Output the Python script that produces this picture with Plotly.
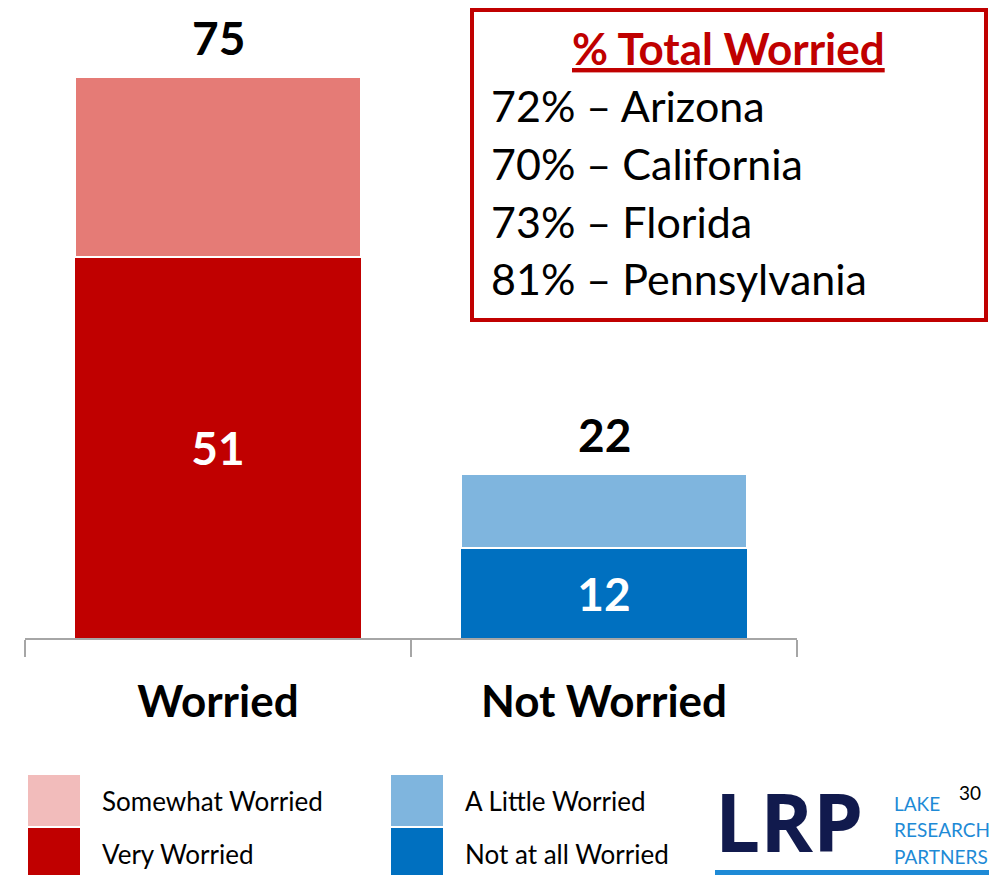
import plotly.graph_objects as go

categories = ["Worried", "Not Worried"]
bottom_values = [51, 12]          # Very Worried / Not at all Worried
top_values = [24, 10]             # Somewhat Worried / A Little Worried
bottom_colors = ["#C00000", "#0070C0"]
top_colors = ["#E57B76", "#7FB5DE"]
legend_labels = [["Somewhat Worried", "Very Worried"], ["A Little Worried", "Not at all Worried"]]
legend_colors = [["#F2BCBB", "#C00000"], ["#7FB5DE", "#0070C0"]]
box_title = "% Total Worried"
box_lines = ["72% – Arizona", "70% – California", "73% – Florida", "81% – Pennsylvania"]
page_number = "30"

W, H = 989, 875
FONT = "Lato"

def px(x):
    return x / W

def py(y):
    return 1 - y / H

fig = go.Figure()
fig.add_trace(go.Bar(
    x=categories, y=bottom_values, marker=dict(color=bottom_colors, line=dict(width=0)),
    text=[str(v) for v in bottom_values], textposition="inside", insidetextanchor="middle",
    textfont=dict(family=FONT, size=46, color="white", weight="bold"), width=0.74,
    showlegend=False, hoverinfo="skip"))
fig.add_trace(go.Bar(
    x=categories, y=top_values, marker=dict(color=top_colors, line=dict(color="white", width=2)),
    width=0.74, showlegend=False, hoverinfo="skip"))

annotations = []
for c, b, t in zip(categories, bottom_values, top_values):
    annotations.append(dict(x=c, y=b + t, xref="x", yref="y", text=f"<b>{b + t}</b>",
                            showarrow=False, yanchor="bottom", yshift=10,
                            font=dict(family=FONT, size=46, color="black")))

# Box
annotations.append(dict(x=px(728), y=py(48), xref="paper", yref="paper",
                        text=f"<b><u>{box_title}</u></b>", showarrow=False, xanchor="center",
                        font=dict(family=FONT, size=44, color="#C00000"), yanchor="middle"))
for i, line in enumerate(box_lines):
    annotations.append(dict(x=px(489), y=py(106 + i * 57.5), xref="paper", yref="paper",
                            text=line, showarrow=False, xanchor="left", yanchor="middle",
                            font=dict(family=FONT, size=43, color="black")))

shapes = [dict(type="rect", xref="paper", yref="paper", x0=px(472), x1=px(986), y0=py(320), y1=py(10),
               line=dict(color="#C00000", width=4))]

# Legend
col_x = [28, 391]
for ci in range(2):
    for ri in range(2):
        y0 = 775 + ri * 53
        shapes.append(dict(type="rect", xref="paper", yref="paper", x0=px(col_x[ci]), x1=px(col_x[ci] + 52),
                           y0=py(y0 + 51), y1=py(y0), fillcolor=legend_colors[ci][ri], line=dict(width=0)))
        annotations.append(dict(x=px(col_x[ci] + 72), y=py(y0 + 26), xref="paper", yref="paper",
                                text=legend_labels[ci][ri], showarrow=False, xanchor="left", yanchor="middle",
                                font=dict(family=FONT, size=26, color="black")))

# Logo
annotations.append(dict(x=px(713), y=py(820), xref="paper", yref="paper", text="<b>LRP</b>",
                        showarrow=False, xanchor="left", yanchor="middle",
                        font=dict(family="Open Sans", size=80, color="#111A4D")))
for i, word in enumerate(["LAKE", "RESEARCH", "PARTNERS"]):
    annotations.append(dict(x=px(892), y=py(803 + i * 26.5), xref="paper", yref="paper", text=word,
                            showarrow=False, xanchor="left", yanchor="middle",
                            font=dict(family=FONT, size=19, color="#1E8AD6")))
annotations.append(dict(x=px(957), y=py(792), xref="paper", yref="paper", text=page_number,
                        showarrow=False, xanchor="left", yanchor="middle",
                        font=dict(family=FONT, size=19, color="black")))
shapes.append(dict(type="rect", xref="paper", yref="paper", x0=px(715), x1=1, y0=0, y1=py(870),
                   fillcolor="#1E8AD6", line=dict(width=0)))

fig.update_layout(
    width=W, height=H, margin=dict(l=0, r=0, t=0, b=0),
    plot_bgcolor="white", paper_bgcolor="white", barmode="stack", bargap=0.26,
    annotations=annotations, shapes=shapes,
    xaxis=dict(domain=[px(25), px(797)], range=[-0.5, 1.5], showline=True, linecolor="#A6A6A6", linewidth=2,
               ticks="outside", tickson="boundaries", ticklen=17, tickcolor="#A6A6A6", tickwidth=2,
               ticklabelstandoff=24,
               tickfont=dict(family=FONT, size=44, color="black", weight="bold"), showgrid=False),
    yaxis=dict(domain=[py(638), py(40)], range=[0, 80], visible=False, showgrid=False, zeroline=False),
)

fig.write_html("out.html", config={"displayModeBar": False},
               post_script="document.body.style.margin='0';document.body.style.overflow='hidden';")
